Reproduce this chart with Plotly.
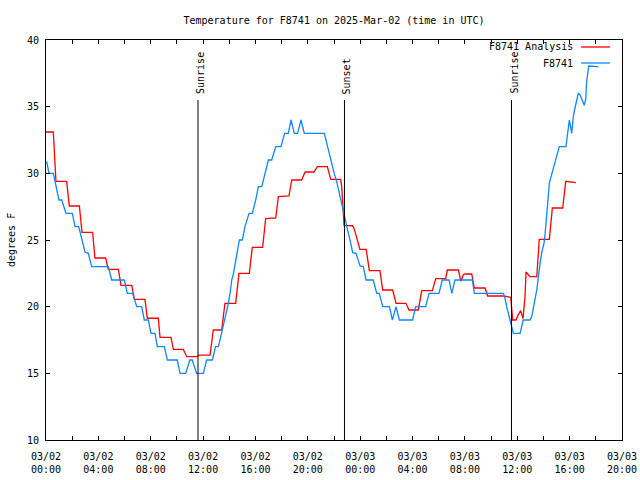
import pandas as pd
import plotly.graph_objects as go

BASE = pd.Timestamp("2025-03-02 00:00")

# Analysis series (hours since 03/02 00:00 UTC, degrees F)
analysis_hours = [0.0, 0.56, 0.76, 1.58, 1.78, 2.55, 2.75, 3.56, 3.74, 4.56, 4.76, 5.53, 5.73, 6.55, 6.75,
                  7.56, 7.74, 8.58, 8.71, 9.55, 9.73, 10.49, 10.75, 11.56, 11.68, 12.53, 12.78, 13.42, 13.67,
                  14.49, 14.74, 15.53, 15.76, 16.55, 16.78, 17.55, 17.75, 18.56, 18.77, 19.53, 19.79, 20.47,
                  20.73, 21.49, 21.75, 22.51, 22.59, 22.67, 22.77, 23.42, 23.52, 23.67, 23.8, 23.98, 24.46,
                  24.7, 25.51, 25.72, 26.48, 26.74, 27.5, 27.73, 28.44, 28.7, 29.51, 29.77, 30.53, 30.66,
                  31.5, 31.62, 31.7, 31.88, 32.0, 32.52, 32.72, 33.54, 33.74, 34.94, 35.5, 35.65, 35.9,
                  36.08, 36.26, 36.44, 36.59, 36.67, 36.97, 37.49, 37.68, 38.45, 38.68, 39.47, 39.7, 40.49]
analysis_temps = [33.1, 33.1, 29.4, 29.4, 27.55, 27.55, 25.57, 25.57, 23.65, 23.65, 22.8, 22.8, 21.6, 21.6, 20.55,
                  20.55, 19.13, 19.13, 17.7, 17.7, 16.8, 16.8, 16.25, 16.25, 16.37, 16.37, 18.25, 18.25, 20.25,
                  20.25, 22.5, 22.5, 24.45, 24.45, 26.6, 26.65, 28.25, 28.3, 29.5, 29.5, 30.1, 30.1,
                  30.5, 30.5, 29.55, 29.55, 29.0, 28.0, 26.1, 26.07, 25.9, 25.4, 24.9, 24.3, 24.3,
                  22.7, 22.7, 21.25, 21.25, 20.25, 20.25, 19.75, 19.75, 21.2, 21.2, 22.1, 22.1, 22.75,
                  22.75, 22.25, 21.9, 22.4, 22.45, 22.45, 21.4, 21.4, 20.8, 20.8, 20.7, 19.0, 19.0,
                  19.4, 19.7, 19.1, 20.75, 22.6, 22.25, 22.25, 25.05, 25.05, 27.4, 27.4, 29.4, 29.3]

# Station observations
obs_hours = [0.05, 0.23, 0.56, 0.99, 1.2, 1.53, 2.01, 2.22, 2.5, 2.98, 3.23, 3.49, 4.76, 5.02, 5.98, 6.21,
             6.62, 6.93, 7.31, 7.51, 7.82, 8.02, 8.33, 8.5, 9.04, 9.27, 10.03, 10.24, 10.67, 10.99, 11.17,
             11.5, 12.02, 12.27, 12.71, 12.95, 13.17, 13.42, 13.67, 13.88, 14.06, 14.19, 14.32, 14.49,
             14.65, 14.77, 15.0, 15.2, 15.51, 15.76, 16.02, 16.22, 16.48, 16.99, 17.24, 17.55, 17.95,
             18.23, 18.51, 18.72, 18.97, 19.22, 19.48, 19.73, 21.26, 21.39, 21.56, 21.7, 21.88, 22.04,
             22.2, 22.46, 22.71, 22.97, 23.1, 23.22, 23.35, 23.43, 23.68, 23.86, 23.99, 24.24, 24.45,
             25.0, 25.26, 25.46, 25.72, 26.23, 26.46, 26.74, 26.99, 28.0, 28.24, 29.0, 29.26, 30.02,
             30.27, 30.79, 31.0, 31.24, 32.57, 32.72, 34.94, 35.07, 35.19, 35.45, 35.7, 36.21, 36.46,
             36.97, 37.1, 37.23, 37.36, 37.49, 37.61, 37.68, 37.79, 37.91, 38.04, 38.12, 38.2, 38.3,
             38.37, 38.45, 38.58, 38.71, 38.83, 38.96, 39.14, 39.21, 39.72, 39.82, 39.98, 40.16, 40.28,
             40.41, 40.54, 40.66, 40.79, 40.97, 41.12, 41.23, 41.3, 41.46, 42.19]
obs_temps = [30.9, 30, 30, 28, 28, 27, 27, 26, 26, 24.1, 24, 23, 23, 22, 22, 21,
             21, 20, 20, 19, 19, 18, 18, 17, 17, 16, 16, 15, 15, 16, 16,
             15, 15, 16, 16, 17, 17, 18, 19, 20, 21, 22, 22.5, 23.5,
             24.1, 25, 25, 26, 27, 27, 28, 29, 29, 31, 31, 32, 32,
             33, 33, 34, 33, 33, 34, 33, 33, 32.5, 31.75, 31.1, 30.5, 29.9,
             29.4, 28.25, 27, 25.9, 25.5, 25.0, 24.5, 24.05, 24, 23.5, 23.05, 23, 22,
             22, 21, 21, 20, 20, 19, 20, 19, 19, 20, 20, 21, 21,
             22, 22, 21, 22, 22, 21, 21, 20.6, 20, 19, 18, 18, 19,
             19, 19.25, 19.9, 20.5, 21.25, 22.25, 23, 23.6, 24.25, 24.75, 25.4, 26.5, 27.5,
             28.5, 29.25, 29.75, 30.25, 30.75, 31.25, 31.75, 32, 32, 32.75, 34, 33, 34.25,
             34.9, 35.5, 36, 35.9, 35.5, 35.1, 35.6, 36.9, 38.05, 38]

# Sun events (hours since 03/02 00:00 UTC)
event_hours = [11.61, 22.8, 35.56]
event_labels = ["Sunrise", "Sunset", "Sunrise"]

series_names = ["F8741 Analysis", "F8741"]
series_colors = ["#ff0000", "#0f87ff"]

def to_time(hours):
    return [BASE + pd.Timedelta(hours=h) for h in hours]

FONT = "DejaVu Sans Mono"
W, H = 640, 480
ML, MR, MT, MB = 46, 18, 40, 40

fig = go.Figure()
fig.add_trace(go.Scatter(x=to_time(analysis_hours), y=analysis_temps, mode="lines",
                         line=dict(color=series_colors[0], width=1.3), name=series_names[0]))
fig.add_trace(go.Scatter(x=to_time(obs_hours), y=obs_temps, mode="lines",
                         line=dict(color=series_colors[1], width=1.3), name=series_names[1]))

for h, lab in zip(event_hours, event_labels):
    t = BASE + pd.Timedelta(hours=h)
    fig.add_shape(type="line", xref="x", yref="y", x0=t, x1=t, y0=10, y1=35.5,
                  line=dict(color="black", width=1))
    fig.add_annotation(x=t, y=35.8, xref="x", yref="y", text=lab, textangle=-90,
                       showarrow=False, xanchor="center", yanchor="bottom", xshift=2,
                       font=dict(family=FONT, size=10, color="black"))

# gnuplot-style key: text then line sample, at top right
legend_y = [0.9825, 0.9425]
for name, col, ly in zip(series_names, series_colors, legend_y):
    fig.add_annotation(x=0.919, y=ly, xref="paper", yref="paper", text=name, showarrow=False,
                       xanchor="right", yanchor="middle",
                       font=dict(family=FONT, size=10, color="black"))
    fig.add_shape(type="line", xref="paper", yref="paper", x0=0.929, x1=0.979, y0=ly, y1=ly,
                  line=dict(color=col, width=1.3))

# y-axis title
fig.add_annotation(x=0, y=0.5, xref="paper", yref="paper", text="degrees F", textangle=-90,
                   showarrow=False, xanchor="center", yanchor="middle", xshift=-35,
                   font=dict(family=FONT, size=10, color="black"))

fig.update_layout(
    width=W, height=H,
    margin=dict(l=ML, r=MR, t=MT, b=MB, autoexpand=False),
    paper_bgcolor="white", plot_bgcolor="white",
    showlegend=False,
    font=dict(family=FONT, size=10, color="black"),
    title=dict(text="Temperature for F8741 on 2025-Mar-02 (time in UTC)", x=0.5, xref="paper",
               xanchor="center", y=1 - 20 / H, yanchor="middle",
               font=dict(family=FONT, size=10, color="black")),
)
fig.update_xaxes(
    type="date", automargin=False,
    range=[BASE, BASE + pd.Timedelta(hours=44)],
    tick0=BASE, dtick=4 * 3600 * 1000, tickformat="%m/%d<br>%H:%M",
    ticks="inside", ticklen=4, tickcolor="black", mirror="ticks",
    showline=True, linecolor="black", linewidth=1, showgrid=False, zeroline=False,
    minor=dict(dtick=2 * 3600 * 1000, ticks="inside", ticklen=4, tickcolor="black", showgrid=False),
    tickfont=dict(family=FONT, size=10, color="black"),
    ticklabelstandoff=7, ticklabeloverflow="allow",
)
fig.update_yaxes(
    automargin=False,
    range=[10, 40], dtick=5, tick0=10,
    ticks="inside", ticklen=4, tickcolor="black", mirror="ticks",
    showline=True, linecolor="black", linewidth=1, showgrid=False, zeroline=False,
    tickfont=dict(family=FONT, size=10, color="black"),
    ticklabelstandoff=4,
)

fig.write_html("out.html", config={"displayModeBar": False},
               post_script="document.body.style.margin='0';document.body.style.overflow='hidden';")
